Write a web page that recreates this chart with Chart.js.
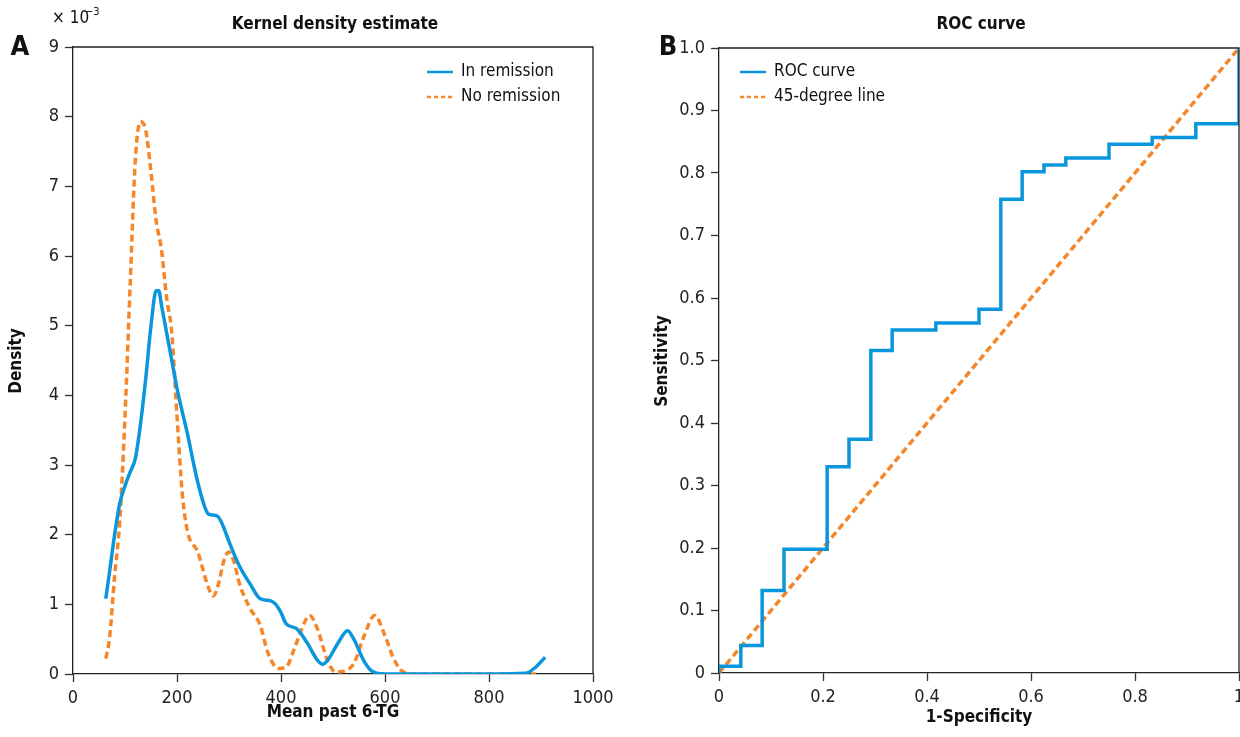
<!DOCTYPE html>
<html>
<head>
<meta charset="utf-8">
<script src="https://cdn.jsdelivr.net/npm/chart.js@4.4.1/dist/chart.umd.min.js"></script>
<style>
  html, body { margin: 0; padding: 0; background: #fff; overflow: hidden; }
  body { width: 1240px; height: 737px; position: relative; }
  canvas { position: absolute; top: 0; }
  #kde { left: 0; }
  #roc { left: 640px; }
</style>
</head>
<body>
<canvas id="kde" width="640" height="737"></canvas>
<canvas id="roc" width="640" height="737"></canvas>
<script>
// Panel A: kernel density estimate (density values in units of 10^-3)
const remissionX = [63, 70, 80, 90, 100, 110, 120, 130, 140, 150, 160, 165, 170, 180, 190, 200, 220, 240, 260, 270, 280, 290, 300, 320, 340, 360, 380, 390, 400, 410, 430, 450, 470, 480, 490, 510, 528, 540, 560, 575, 600, 700, 800, 870, 890, 908];
const remissionY = [1.08, 1.45, 2.0, 2.45, 2.7, 2.9, 3.1, 3.6, 4.25, 5.0, 5.5, 5.5, 5.3, 4.9, 4.5, 4.1, 3.45, 2.75, 2.3, 2.28, 2.25, 2.1, 1.9, 1.55, 1.3, 1.08, 1.05, 1.0, 0.88, 0.72, 0.65, 0.45, 0.2, 0.14, 0.2, 0.45, 0.62, 0.5, 0.18, 0.04, 0, 0, 0, 0.01, 0.1, 0.24];

const noRemissionX = [63, 70, 80, 90, 100, 110, 120, 130, 140, 150, 160, 170, 180, 190, 200, 210, 220, 240, 260, 270, 280, 290, 300, 310, 320, 340, 360, 375, 395, 410, 425, 440, 455, 470, 490, 505, 520, 540, 560, 580, 600, 615, 630, 650, 700, 800, 890];
const noRemissionY = [0.22, 0.5, 1.4, 2.2, 3.7, 5.6, 7.4, 7.93, 7.8, 7.2, 6.5, 6.1, 5.4, 4.9, 3.7, 2.6, 2.05, 1.75, 1.25, 1.12, 1.3, 1.62, 1.75, 1.6, 1.3, 0.95, 0.7, 0.3, 0.08, 0.1, 0.35, 0.65, 0.84, 0.65, 0.18, 0.03, 0.04, 0.15, 0.55, 0.84, 0.55, 0.25, 0.06, 0, 0, 0, 0];

const kdeXTicks = [0, 200, 400, 600, 800, 1000];
const kdeYTicks = [0, 1, 2, 3, 4, 5, 6, 7, 8, 9];

// Panel B: ROC curve (horizontal step then vertical jump at each point)
const rocFpr = [0, 0, 0.042, 0.083, 0.125, 0.208, 0.25, 0.292, 0.333, 0.417, 0.5, 0.542, 0.583, 0.625, 0.667, 0.75, 0.833, 0.917, 1.0];
const rocTpr = [0, 0.011, 0.044, 0.132, 0.198, 0.33, 0.374, 0.516, 0.549, 0.56, 0.582, 0.758, 0.802, 0.813, 0.824, 0.846, 0.857, 0.879, 1.0];
const diagX = [0, 1];
const diagY = [0, 1];

const rocXTicks = [0, 0.2, 0.4, 0.6, 0.8, 1];
const rocYTicks = [0, 0.1, 0.2, 0.3, 0.4, 0.5, 0.6, 0.7, 0.8, 0.9, 1.0];

const BLUE = '#0a96dc';
const ORANGE = '#f5872a';
const FONT = "'Liberation Sans Narrow', 'DejaVu Sans Condensed', 'Arial Narrow', sans-serif";

function pts(xs, ys) {
    return xs.map((x, i) => ({ x: x, y: ys[i] }));
}

function axis(min, max, ticks, fmt, size) {
    return {
        type: 'linear',
        min: min,
        max: max,
        afterBuildTicks: s => { s.ticks = ticks.map(v => ({ value: v })); },
        afterFit: s => { if (s.isHorizontal()) s.height = size; else s.width = size; },
        border: { color: '#222', width: 1.3 },
        grid: { drawOnChartArea: false, drawTicks: true, tickLength: 8, color: '#333', tickWidth: 1.3 },
        ticks: {
            color: '#222',
            padding: 6,
            maxRotation: 0,
            autoSkip: false,
            font: { family: FONT, size: 18 },
            callback: fmt
        }
    };
}

// draws frame, titles, panel letters and legend
function decoPlugin(opts) {
    return {
        id: 'deco',
        afterDraw(chart) {
            const ctx = chart.ctx;
            const a = chart.chartArea;
            ctx.save();
            ctx.strokeStyle = '#222';
            ctx.lineWidth = 1.3;
            ctx.beginPath();
            ctx.moveTo(a.left, a.top);
            ctx.lineTo(a.right, a.top);
            ctx.lineTo(a.right, a.bottom);
            ctx.stroke();

            ctx.fillStyle = '#111';
            ctx.textAlign = 'center';
            ctx.textBaseline = 'middle';
            ctx.font = 'bold 17px ' + FONT;
            ctx.fillText(opts.title, opts.titleX, 25);
            ctx.fillText(opts.xTitle, opts.xTitleX, opts.xTitleY);
            ctx.save();
            ctx.translate(opts.yTitleX, 361);
            ctx.rotate(-Math.PI / 2);
            ctx.fillText(opts.yTitle, 0, 0);
            ctx.restore();

            ctx.font = 'bold 27px ' + FONT;
            ctx.fillText(opts.letter, opts.letterX, 48);

            if (opts.exponent) {
                ctx.textAlign = 'left';
                ctx.font = '17px ' + FONT;
                ctx.fillText('× 10', 52, 19);
                ctx.font = '11px ' + FONT;
                ctx.fillText('−3', 85, 12);
            }

            // legend
            ctx.textAlign = 'left';
            ctx.font = '17px ' + FONT;
            opts.legend.forEach((item, i) => {
                const y = 72 + i * 25;
                ctx.strokeStyle = item.color;
                ctx.lineWidth = 2.5;
                ctx.setLineDash(item.dash ? [4, 3] : []);
                ctx.beginPath();
                ctx.moveTo(opts.legendX, y);
                ctx.lineTo(opts.legendX + 26, y);
                ctx.stroke();
                ctx.setLineDash([]);
                ctx.fillStyle = '#111';
                ctx.fillText(item.label, opts.legendX + 34, y);
            });
            ctx.restore();
        }
    };
}

new Chart(document.getElementById('kde'), {
    type: 'line',
    data: {
        datasets: [
            {
                label: 'In remission',
                data: pts(remissionX, remissionY),
                borderColor: BLUE,
                borderWidth: 3.5,
                pointRadius: 0,
                cubicInterpolationMode: 'monotone'
            },
            {
                label: 'No remission',
                data: pts(noRemissionX, noRemissionY),
                borderColor: ORANGE,
                borderWidth: 3.5,
                borderDash: [7, 4],
                pointRadius: 0,
                cubicInterpolationMode: 'monotone'
            }
        ]
    },
    options: {
        responsive: false,
        animation: false,
        layout: { padding: { top: 47, right: 47, left: 0, bottom: 0 } },
        plugins: { legend: { display: false }, tooltip: { enabled: false } },
        scales: {
            x: axis(0, 1000, kdeXTicks, v => String(v), 63),
            y: axis(0, 9, kdeYTicks, v => String(v), 73)
        }
    },
    plugins: [decoPlugin({
        title: 'Kernel density estimate', titleX: 335,
        xTitle: 'Mean past 6-TG', xTitleX: 333, xTitleY: 713,
        yTitle: 'Density', yTitleX: 17,
        letter: 'A', letterX: 20,
        exponent: true,
        legendX: 427,
        legend: [
            { label: 'In remission', color: BLUE, dash: false },
            { label: 'No remission', color: ORANGE, dash: true }
        ]
    })]
});

new Chart(document.getElementById('roc'), {
    type: 'line',
    data: {
        datasets: [
            {
                label: 'ROC curve',
                data: pts(rocFpr, rocTpr),
                borderColor: BLUE,
                borderWidth: 3.5,
                pointRadius: 0,
                stepped: 'before'
            },
            {
                label: '45-degree line',
                data: pts(diagX, diagY),
                borderColor: ORANGE,
                borderWidth: 3.5,
                borderDash: [7, 4],
                pointRadius: 0
            }
        ]
    },
    options: {
        responsive: false,
        animation: false,
        layout: { padding: { top: 48, right: 41, left: 0, bottom: 0 } },
        plugins: { legend: { display: false }, tooltip: { enabled: false } },
        scales: {
            x: axis(0, 1, rocXTicks, v => (v === 0 || v === 1) ? String(v) : v.toFixed(1), 64),
            y: axis(0, 1, rocYTicks, v => v === 0 ? '0' : v.toFixed(1), 79)
        }
    },
    plugins: [decoPlugin({
        title: 'ROC curve', titleX: 341,
        xTitle: '1-Specificity', xTitleX: 339, xTitleY: 718,
        yTitle: 'Sensitivity', yTitleX: 23,
        letter: 'B', letterX: 28,
        exponent: false,
        legendX: 100,
        legend: [
            { label: 'ROC curve', color: BLUE, dash: false },
            { label: '45-degree line', color: ORANGE, dash: true }
        ]
    })]
});
</script>
</body>
</html>
